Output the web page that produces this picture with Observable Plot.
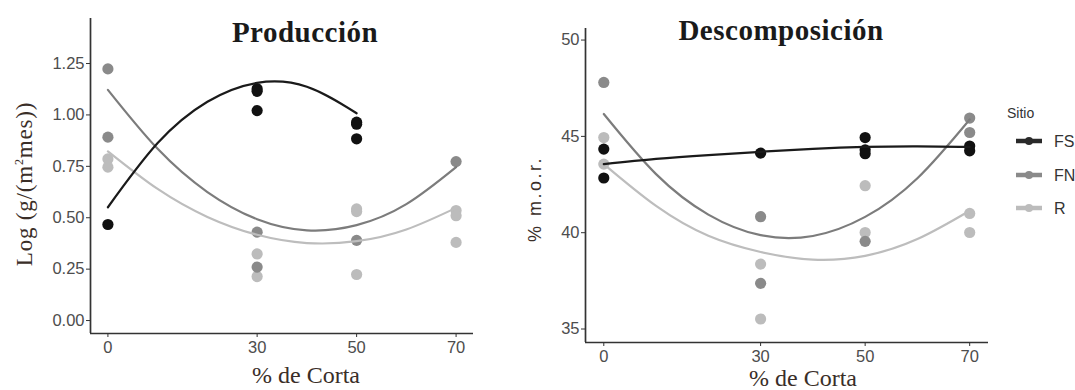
<!DOCTYPE html>
<html>
<head>
<meta charset="utf-8">
<script src="https://cdn.jsdelivr.net/npm/d3@7"></script>
<script src="https://cdn.jsdelivr.net/npm/@observablehq/plot@0.6"></script>
<style>
  html, body { margin: 0; padding: 0; background: #fff; }
  #wrap { position: relative; width: 1075px; height: 390px; overflow: hidden; background: #fff; }
  #wrap > .panel { position: absolute; top: 0; }
  #overlay { position: absolute; left: 0; top: 0; pointer-events: none; }
  #wrap svg g[aria-label="x-axis tick label"] text, #wrap svg g[aria-label="y-axis tick label"] text { font-size: 16.5px; }
</style>
</head>
<body>
<div id="wrap">
  <div class="panel" id="left" style="left:0px"></div>
  <div class="panel" id="right" style="left:480px"></div>
  <svg id="overlay" width="1075" height="390"></svg>
</div>
<script>
// ---------- Data ----------
const sitios = ["FS", "FN", "R"];
const sitioColors = ["#111111", "#8a8a8a", "#bcbcbc"];
const lineColors = ["#1a1a1a", "#7c7c7c", "#bdbdbd"];
const cortaTicks = [0, 30, 50, 70];
const prodTicks = [0, 0.25, 0.5, 0.75, 1.0, 1.25];
const descTicks = [35, 40, 45, 50];

// Producción: observed points [corta, value]
const prodFS = [[0, 0.467], [30, 1.127], [30, 1.115], [30, 1.021], [50, 0.965], [50, 0.955], [50, 0.884]];
const prodFN = [[0, 1.224], [0, 0.892], [30, 0.43], [30, 0.26], [50, 0.39], [70, 0.773]];
const prodR  = [[0, 0.786], [0, 0.746], [30, 0.324], [30, 0.214], [50, 0.543], [50, 0.53], [50, 0.224], [70, 0.535], [70, 0.51], [70, 0.38]];

// Descomposición: observed points [corta, value]
const descFS = [[0, 44.34], [0, 42.84], [30, 44.13], [50, 44.94], [50, 44.3], [50, 44.1], [70, 44.5], [70, 44.25]];
const descFN = [[0, 47.8], [30, 40.83], [30, 37.37], [50, 39.55], [70, 45.95], [70, 45.2]];
const descR  = [[0, 44.94], [0, 43.56], [30, 38.37], [30, 35.52], [50, 42.44], [50, 40.01], [70, 41.0], [70, 40.01]];

// Fitted curves
const fitX = [0, 10, 20, 30, 40, 50, 60, 70];
const prodFitFS = [0.551, 0.863, 1.064, 1.156, 1.137, 1.008];
const prodFitFN = [1.122, 0.835, 0.625, 0.493, 0.439, 0.464, 0.566, 0.746];
const prodFitR  = [0.823, 0.640, 0.504, 0.417, 0.377, 0.386, 0.443, 0.548];
const descFitFS = [43.56, 43.83, 44.03, 44.2, 44.35, 44.45, 44.48, 44.45];
const descFitFN = [46.16, 43.04, 40.94, 39.87, 39.83, 40.82, 42.83, 45.88];
const descFitR  = [43.56, 41.39, 39.84, 39.0, 38.6, 38.8, 39.67, 41.14];

// ---------- Helpers ----------
const toPts = arr => arr.map(([x, y]) => ({x, y}));
const toFit = vals => vals.map((y, i) => ({x: fitX[i], y}));

function panel({el, width, marginLeft, marginRight, marginTop, marginBottom, xDomain, yDomain, yTicks, yFormat, points, fits}) {
  const marks = [
    Plot.axisX({ticks: cortaTicks, tickSize: 4, tickPadding: 4, label: null, fontSize: 16.5, fill: "#4d4d4d", stroke: "#333"}),
    Plot.axisY({ticks: yTicks, tickSize: 4, tickPadding: 2, label: null, fontSize: 16.5, fill: "#4d4d4d", stroke: "#333", tickFormat: yFormat}),
    Plot.ruleX([xDomain[0]], {y1: yDomain[0], y2: yDomain[1], stroke: "#333", strokeWidth: 1.7}),
    Plot.ruleY([yDomain[0]], {x1: xDomain[0], x2: xDomain[1], stroke: "#333", strokeWidth: 1.7})
  ];
  // points: R first, then FN, then FS
  [2, 1, 0].forEach(i => {
    marks.push(Plot.dot(toPts(points[i]), {x: "x", y: "y", r: 5.6, fill: sitioColors[i], stroke: "none"}));
  });
  [2, 1, 0].forEach(i => {
    marks.push(Plot.line(toFit(fits[i]), {x: "x", y: "y", stroke: lineColors[i], strokeWidth: 2.2, curve: "natural"}));
  });
  const chart = Plot.plot({
    width, height: 390, marginLeft, marginRight, marginTop, marginBottom,
    x: {domain: xDomain},
    y: {domain: yDomain},
    style: {fontFamily: "'Liberation Sans', Arial, sans-serif", fontSize: "16.5px", background: "transparent", overflow: "visible"},
    marks
  });
  document.getElementById(el).appendChild(chart);
}

panel({
  el: "left", width: 480, marginLeft: 90, marginRight: 7, marginTop: 18, marginBottom: 57,
  xDomain: [-3.5, 73.5], yDomain: [-0.063, 1.469], yTicks: prodTicks, yFormat: d3.format(".2f"),
  points: [prodFS, prodFN, prodR], fits: [prodFitFS, prodFitFN, prodFitR]
});

panel({
  el: "right", width: 520, marginLeft: 105, marginRight: 12, marginTop: 28, marginBottom: 48,
  xDomain: [-3.5, 73.6], yDomain: [34.3, 50.6], yTicks: descTicks, yFormat: d3.format("d"),
  points: [descFS, descFN, descR], fits: [descFitFS, descFitFN, descFitR]
});

// ---------- Titles, labels, legend ----------
const ov = d3.select("#overlay");
const serif = "'Liberation Serif', 'DejaVu Serif', serif";
const sans = "'Liberation Sans', Arial, sans-serif";
const labelColor = "#3a2e28";

ov.append("text").attr("x", 305).attr("y", 42).attr("text-anchor", "middle")
  .attr("font-family", serif).attr("font-weight", "bold").attr("font-size", 29).attr("letter-spacing", 0.5).attr("fill", "#1a1a1a").text("Producción");
ov.append("text").attr("x", 781).attr("y", 40).attr("text-anchor", "middle")
  .attr("font-family", serif).attr("font-weight", "bold").attr("font-size", 29).attr("letter-spacing", 0.5).attr("fill", "#1a1a1a").text("Descomposición");

ov.append("text").attr("x", 306).attr("y", 383).attr("text-anchor", "middle")
  .attr("font-family", serif).attr("font-size", 24).attr("fill", labelColor).text("% de Corta");
ov.append("text").attr("x", 803).attr("y", 386).attr("text-anchor", "middle")
  .attr("font-family", serif).attr("font-size", 24).attr("fill", labelColor).text("% de Corta");

const yl = ov.append("text").attr("transform", "translate(32,184) rotate(-90)").attr("text-anchor", "middle")
  .attr("font-family", serif).attr("font-size", 23).attr("letter-spacing", 0.8).attr("fill", labelColor);
yl.append("tspan").text("Log (g/(m");
yl.append("tspan").attr("font-size", 12).attr("dy", -9).text("2");
yl.append("tspan").attr("dy", 9).text("mes))");

ov.append("text").attr("transform", "translate(541,199) rotate(-90)").attr("text-anchor", "middle")
  .attr("font-family", sans).attr("font-size", 18).attr("letter-spacing", 2.5).attr("fill", labelColor).text("% m.o.r.");

ov.append("text").attr("x", 1007).attr("y", 118).attr("font-family", sans).attr("font-size", 14).attr("fill", "#333").text("Sitio");
const legendY = [141, 175, 208];
const legendKey = ["#2a2a2a", "#8a8a8a", "#bcbcbc"];
sitios.forEach((s, i) => {
  ov.append("line").attr("x1", 1016).attr("x2", 1042).attr("y1", legendY[i]).attr("y2", legendY[i])
    .attr("stroke", legendKey[i]).attr("stroke-width", 4.5);
  ov.append("circle").attr("cx", 1029).attr("cy", legendY[i]).attr("r", 4).attr("fill", legendKey[i]);
  ov.append("text").attr("x", 1054).attr("y", legendY[i] + 6).attr("font-family", sans).attr("font-size", 16)
    .attr("fill", "#333").text(s);
});
</script>
</body>
</html>
